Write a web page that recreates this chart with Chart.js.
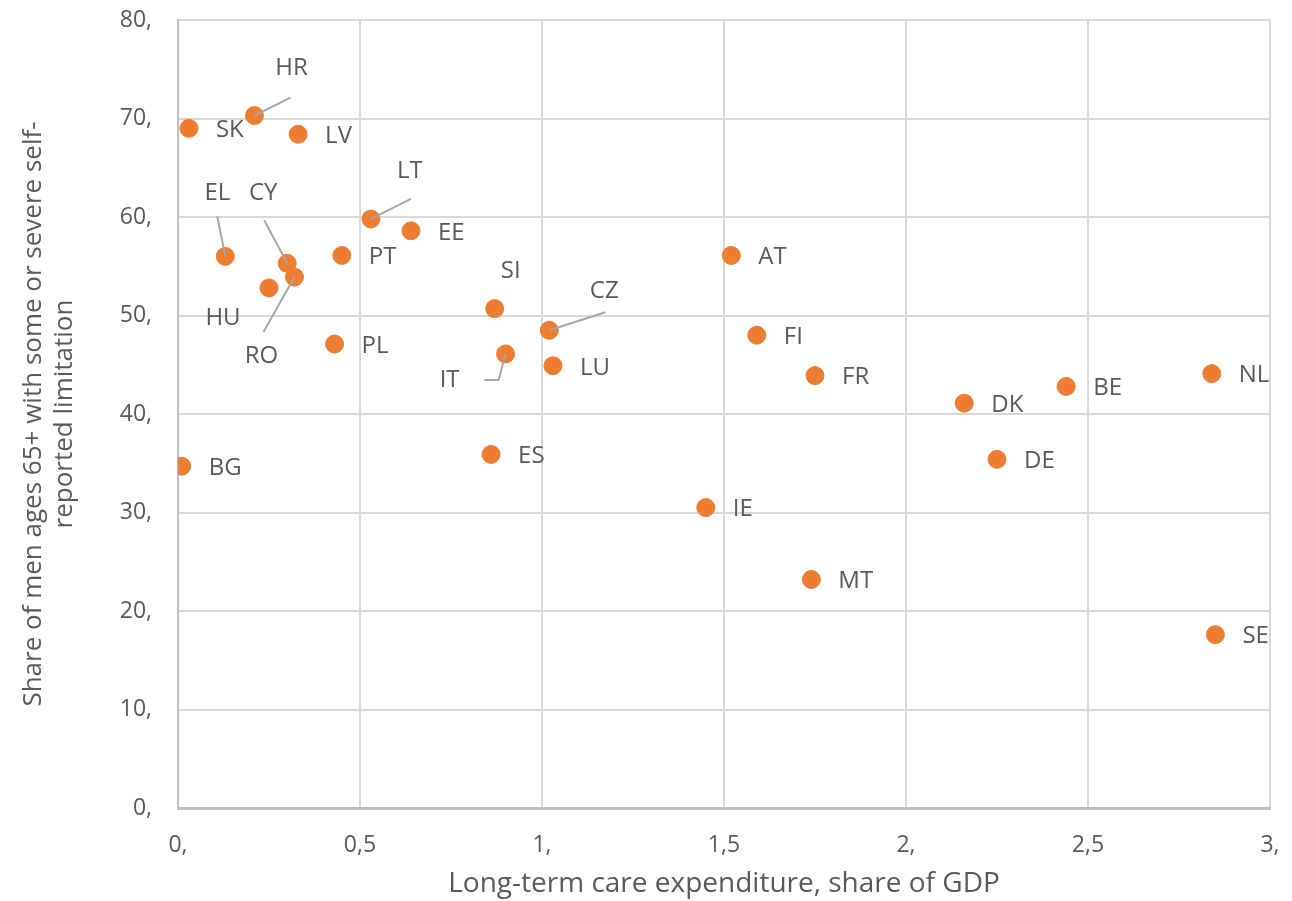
<!DOCTYPE html>
<html>
<head>
<meta charset="utf-8">
<script src="https://cdn.jsdelivr.net/npm/chart.js@4"></script>
<style>
  html, body { margin: 0; padding: 0; background: #fff; }
  #wrap { width: 1292px; height: 901px; }
</style>
</head>
<body>
<div id="wrap"><canvas id="chart" width="1292" height="901"></canvas></div>
<script>
// country codes, x = LTC spending (% of GDP), y = share of men 65+ with limitation
const countries = ['SK', 'HR', 'LV', 'EL', 'CY', 'RO', 'HU', 'LT', 'EE', 'PT', 'PL', 'SI', 'CZ', 'IT', 'LU', 'ES', 'BG',
  'AT', 'FI', 'FR', 'IE', 'MT', 'DK', 'DE', 'BE', 'NL', 'SE'];
const ltcSpending = [0.03, 0.21, 0.33, 0.13, 0.30, 0.32, 0.25, 0.53, 0.64, 0.45, 0.43, 0.87, 1.02, 0.90, 1.03, 0.86, 0.01,
  1.52, 1.59, 1.75, 1.45, 1.74, 2.16, 2.25, 2.44, 2.84, 2.85];
const limitation = [69.0, 70.3, 68.4, 56.0, 55.3, 53.9, 52.8, 59.8, 58.6, 56.1, 47.1, 50.7, 48.5, 46.1, 44.9, 35.9, 34.7,
  56.1, 48.0, 43.9, 30.5, 23.2, 41.1, 35.4, 42.8, 44.1, 17.6];

const xTickLabels = ['0,', '0,5', '1,', '1,5', '2,', '2,5', '3,'];
const yTickLabels = ['0,', '10,', '20,', '30,', '40,', '50,', '60,', '70,', '80,'];

// labels sit right of the point unless moved here (text centre offset, px)
const labelOffsets = {
  HR: [37, -47], EL: [-8, -63], CY: [-24, -70], RO: [-33, 79], HU: [-46, 30],
  LT: [39, -48], SI: [16, -37], CZ: [55, -39], IT: [-56, 26]
};
const leaders = {
  HR: [[36, -18]], EL: [[-8, -40]], CY: [[-23, -43]], RO: [[-31, 55]],
  LT: [[40, -20]], CZ: [[56, -18]], IT: [[-7, 26], [-21, 26]]
};

const textColor = '#595959';
const fontFam = '"Open Sans", "Liberation Sans", sans-serif';

const labelPlugin = {
  id: 'pointLabels',
  afterDatasetsDraw(chart) {
    const ctx = chart.ctx;
    const pts = chart.getDatasetMeta(0).data;
    ctx.save();
    ctx.font = '24px ' + fontFam;
    ctx.fillStyle = textColor;
    ctx.textBaseline = 'middle';
    countries.forEach((c, i) => {
      const p = pts[i];
      if (leaders[c]) {
        ctx.strokeStyle = '#a6a6a6';
        ctx.lineWidth = 2;
        ctx.beginPath();
        ctx.moveTo(p.x, p.y);
        leaders[c].forEach(([dx, dy]) => ctx.lineTo(p.x + dx, p.y + dy));
        ctx.stroke();
      }
      if (labelOffsets[c]) {
        ctx.textAlign = 'center';
        ctx.fillText(c, p.x + labelOffsets[c][0], p.y + labelOffsets[c][1]);
      } else {
        ctx.textAlign = 'left';
        ctx.fillText(c, p.x + 27, p.y + 2);
      }
    });
    ctx.restore();
  }
};

new Chart(document.getElementById('chart'), {
  type: 'scatter',
  data: {
    datasets: [{
      data: countries.map((c, i) => ({ x: ltcSpending[i], y: limitation[i] })),
      backgroundColor: '#ED7D31',
      borderColor: '#ED7D31',
      pointRadius: 9,
      pointHoverRadius: 9
    }]
  },
  options: {
    responsive: false,
    devicePixelRatio: 1,
    animation: false,
    layout: { padding: { top: 20, right: 22, left: 18, bottom: 0 } },
    plugins: { legend: { display: false }, tooltip: { enabled: false } },
    scales: {
      x: {
        type: 'linear', min: 0, max: 3,
        ticks: {
          stepSize: 0.5, color: textColor, padding: 24,
          font: { family: fontFam, size: 23 },
          callback: (v, i) => xTickLabels[i]
        },
        grid: { color: '#d9d9d9', lineWidth: 2, drawTicks: false },
        border: { color: '#bfbfbf', width: 3 },
        title: {
          display: true, text: 'Long-term care expenditure, share of GDP',
          color: textColor, font: { family: fontFam, size: 28 }, padding: { top: 2, bottom: 0 }
        },
        afterFit: s => { s.height = 93; s.paddingLeft = 0; s.paddingRight = 0; }
      },
      y: {
        type: 'linear', min: 0, max: 80,
        ticks: {
          stepSize: 10, color: textColor, padding: 26,
          font: { family: fontFam, size: 23 },
          callback: (v, i) => yTickLabels[i]
        },
        grid: { color: '#d9d9d9', lineWidth: 2, drawTicks: false },
        border: { color: '#bfbfbf', width: 2 },
        title: {
          display: true,
          text: ['Share of men ages 65+ with some or severe self-', 'reported limitation'],
          color: textColor, font: { family: fontFam, size: 26 }, padding: { top: 0, bottom: 0 }
        },
        afterFit: s => { s.width = 160; s.paddingTop = 0; s.paddingBottom = 0; }
      }
    }
  },
  plugins: [labelPlugin]
});
</script>
</body>
</html>
